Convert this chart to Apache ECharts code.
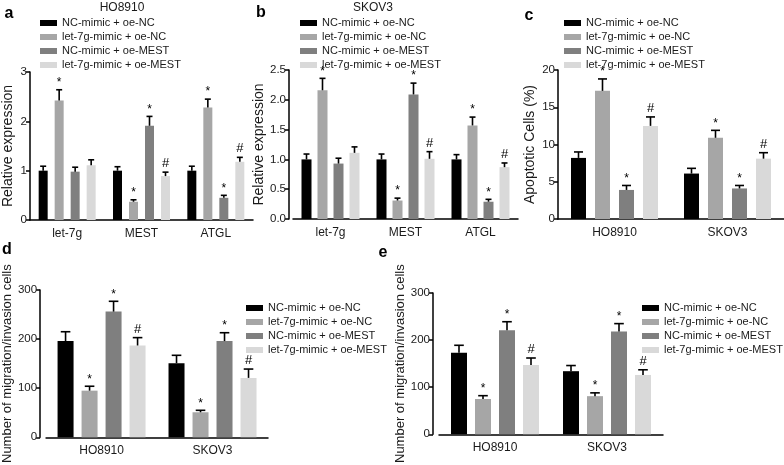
<!DOCTYPE html>
<html>
<head>
<meta charset="utf-8">
<script src="https://cdn.jsdelivr.net/npm/echarts@6/dist/echarts.min.js"></script>
<style>
html,body{margin:0;padding:0;background:#fff;}
#chart{width:784px;height:465px;}
</style>
</head>
<body>
<div id="chart"></div>
<script>
// ---------- shared ----------
const groups = ['NC-mimic + oe-NC', 'let-7g-mimic + oe-NC', 'NC-mimic + oe-MEST', 'let-7g-mimic + oe-MEST'];
const colors = ['#000000', '#a6a6a6', '#7f7f7f', '#d9d9d9'];

// ---------- panel a : HO8910 relative expression ----------
const aCats = ['let-7g', 'MEST', 'ATGL'];
const aNcNc = [1.00, 1.00, 1.00];
const aLetNc = [2.42, 0.37, 2.28];
const aNcMest = [0.98, 1.91, 0.45];
const aLetMest = [1.11, 0.89, 1.18];
const aNcNcSd = [0.09, 0.08, 0.09];
const aLetNcSd = [0.22, 0.04, 0.17];
const aNcMestSd = [0.09, 0.19, 0.05];
const aLetMestSd = [0.11, 0.08, 0.09];
const aMarks = [['', '', ''], ['*', '*', '*'], ['', '*', '*'], ['', '#', '#']];

// ---------- panel b : SKOV3 relative expression ----------
const bCats = ['let-7g', 'MEST', 'ATGL'];
const bNcNc = [1.00, 1.00, 1.00];
const bLetNc = [2.16, 0.31, 1.57];
const bNcMest = [0.93, 2.09, 0.29];
const bLetMest = [1.11, 1.01, 0.87];
const bNcNcSd = [0.09, 0.09, 0.08];
const bLetNcSd = [0.20, 0.04, 0.14];
const bNcMestSd = [0.09, 0.19, 0.04];
const bLetMestSd = [0.10, 0.12, 0.07];
const bMarks = [['', '', ''], ['*', '*', '*'], ['', '*', '*'], ['', '#', '#']];

// ---------- panel c : apoptotic cells ----------
const cCats = ['HO8910', 'SKOV3'];
const cNcNc = [8.2, 6.1];
const cLetNc = [17.2, 10.9];
const cNcMest = [3.9, 4.1];
const cLetMest = [12.5, 8.1];
const cNcNcSd = [0.8, 0.7];
const cLetNcSd = [1.6, 1.0];
const cNcMestSd = [0.6, 0.4];
const cLetMestSd = [1.2, 0.8];
const cMarks = [['', ''], ['*', '*'], ['*', '*'], ['#', '#']];

// ---------- panel d : migration/invasion ----------
const dCats = ['HO8910', 'SKOV3'];
const dNcNc = [196, 151];
const dLetNc = [95, 51];
const dNcMest = [256, 196];
const dLetMest = [187, 121];
const dNcNcSd = [19, 16];
const dLetNcSd = [9, 4];
const dNcMestSd = [21, 17];
const dLetMestSd = [16, 18];
const dMarks = [['', ''], ['*', '*'], ['*', '*'], ['#', '#']];

// ---------- panel e : migration/invasion ----------
const eCats = ['HO8910', 'SKOV3'];
const eNcNc = [173, 134];
const eLetNc = [75, 81];
const eNcMest = [221, 218];
const eLetMest = [147, 126];
const eNcNcSd = [16, 12];
const eLetNcSd = [7, 7];
const eNcMestSd = [18, 17];
const eLetMestSd = [15, 11];
const eMarks = [['', ''], ['*', '*'], ['*', '*'], ['#', '#']];

// ---------- layout ----------
const panels = [
  { cats: aCats, vals: [aNcNc, aLetNc, aNcMest, aLetMest], sds: [aNcNcSd, aLetNcSd, aNcMestSd, aLetMestSd], marks: aMarks,
    grid: { left: 30, top: 72, width: 223, height: 148 }, yOff: 0, max: 3, interval: 1, dec: 0, barW: 9, gap: 7,
    name: 'Relative expression', nameGap: 15, nameSize: 14, legend: { left: 35, top: 11 }, labMargin: 8 },
  { cats: bCats, vals: [bNcNc, bLetNc, bNcMest, bLetMest], sds: [bNcNcSd, bLetNcSd, bNcMestSd, bLetMestSd], marks: bMarks,
    grid: { left: 293, top: 70, width: 225, height: 149 }, yOff: 4, max: 2.5, interval: 0.5, dec: 1, barW: 10, gap: 6,
    name: 'Relative expression', nameGap: 20, nameSize: 14, legend: { left: 295, top: 11 }, labMargin: 8 },
  { cats: cCats, vals: [cNcNc, cLetNc, cNcMest, cLetMest], sds: [cNcNcSd, cLetNcSd, cNcMestSd, cLetMestSd], marks: cMarks,
    grid: { left: 558, top: 70, width: 226, height: 149 }, yOff: 0, max: 20, interval: 5, dec: 0, barW: 15, gap: 9,
    name: 'Apoptotic Cells (%)', nameGap: 21, nameSize: 14, legend: { left: 559, top: 11 }, labMargin: 8 },
  { cats: dCats, vals: [dNcNc, dLetNc, dNcMest, dLetMest], sds: [dNcNcSd, dLetNcSd, dNcMestSd, dLetMestSd], marks: dMarks,
    grid: { left: 44, top: 290, width: 224, height: 150 }, yOff: 6, max: 300, interval: 100, dec: 0, barW: 16, gap: 8,
    name: 'Number of migration/invasion cells', nameGap: 25, nameSize: 13, legend: { left: 241, top: 296 }, labMargin: 7 },
  { cats: eCats, vals: [eNcNc, eLetNc, eNcMest, eLetMest], sds: [eNcNcSd, eLetNcSd, eNcMestSd, eLetMestSd], marks: eMarks,
    grid: { left: 439, top: 293, width: 224, height: 150 }, yOff: 6, max: 300, interval: 100, dec: 0, barW: 16, gap: 8,
    name: 'Number of migration/invasion cells', nameGap: 23, nameSize: 13, legend: { left: 637, top: 296 }, labMargin: 7 }
];

const FONT = 'Liberation Sans, Arial, sans-serif';
const TXT = '#1a1a1a';

const grids = [], xAxes = [], yAxes = [], series = [], legends = [];

function makeRender(p) {
  const step = p.barW + p.gap;
  const capW = Math.max(6, p.barW * 0.6);
  return function (params, api) {
    const c = api.value(0), top = api.value(1), s = api.value(2), mean = api.value(3);
    const pt = api.coord([c, top]);
    const pb = api.coord([c, mean]);
    const x = pt[0] + (s - 1.5) * step;
    const children = [
      { type: 'line', shape: { x1: x, y1: pb[1], x2: x, y2: pt[1] }, style: { stroke: '#000', lineWidth: 1.6 } },
      { type: 'line', shape: { x1: x - capW / 2, y1: pt[1], x2: x + capW / 2, y2: pt[1] }, style: { stroke: '#000', lineWidth: 1.6 } }
    ];
    const m = p.marks[s][c];
    if (m) {
      const isStar = m === '*';
      children.push({
        type: 'text',
        style: {
          text: m, x: x, y: pt[1] - (isStar ? 1 : 2),
          textAlign: 'center', textVerticalAlign: 'bottom',
          font: (isStar ? '12px ' : '13px ') + FONT, fill: '#000'
        }
      });
    }
    return { type: 'group', children: children };
  };
}

panels.forEach((p, i) => {
  grids.push(Object.assign({ containLabel: false }, p.grid));
  xAxes.push({
    type: 'category', gridIndex: i, data: p.cats,
    axisLine: { lineStyle: { color: '#000', width: 1.5 } },
    axisTick: { alignWithLabel: true, length: 4, lineStyle: { color: '#000', width: 1.5 } },
    axisLabel: { color: TXT, fontSize: 12, fontFamily: FONT, margin: p.labMargin },
    splitLine: { show: false }
  });
  yAxes.push({
    type: 'value', gridIndex: i, min: 0, max: p.max, interval: p.interval, offset: p.yOff,
    name: p.name, nameLocation: 'middle', nameGap: p.nameGap,
    nameTextStyle: { color: TXT, fontSize: p.nameSize, fontFamily: FONT },
    axisLine: { show: true, lineStyle: { color: '#000', width: 1.5 } },
    axisTick: { show: true, length: 4, lineStyle: { color: '#000', width: 1.5 } },
    axisLabel: { color: TXT, fontSize: 11.5, fontFamily: FONT, margin: 3,
      formatter: (v) => v.toFixed(p.dec) },
    splitLine: { show: false }
  });
  p.vals.forEach((vals, s) => {
    series.push({
      type: 'bar', name: groups[s], xAxisIndex: i, yAxisIndex: i, data: vals,
      barWidth: p.barW, barGap: (p.gap / p.barW * 100) + '%',
      itemStyle: { color: colors[s] }, silent: true, animation: false
    });
  });
  const ebData = [];
  p.vals.forEach((vals, s) => {
    vals.forEach((v, c) => { ebData.push([c, v + p.sds[s][c], s, v]); });
  });
  series.push({
    type: 'custom', xAxisIndex: i, yAxisIndex: i, data: ebData, z: 10,
    renderItem: makeRender(p), encode: { x: 0, y: 1 }, silent: true, animation: false
  });
  legends.push({
    orient: 'vertical', left: p.legend.left, top: p.legend.top, data: groups,
    icon: 'rect', itemWidth: 17, itemHeight: 6, itemGap: 0,
    textStyle: { color: TXT, fontSize: 11, fontFamily: FONT, lineHeight: 14 },
    selectedMode: false
  });
});

const labelTexts = [
  { t: 'a', x: 9, y: 14 }, { t: 'b', x: 261, y: 13 }, { t: 'c', x: 529, y: 16 },
  { t: 'd', x: 7, y: 250 }, { t: 'e', x: 383, y: 253 }
];
const titleTexts = [{ t: 'HO8910', x: 122, y: 8 }, { t: 'SKOV3', x: 373, y: 8 }];

const graphic = [];
labelTexts.forEach(l => graphic.push({ type: 'text', x: l.x, y: l.y,
  style: { text: l.t, font: 'bold 16px ' + FONT, fill: '#000', textAlign: 'center', textVerticalAlign: 'middle' } }));
titleTexts.forEach(l => graphic.push({ type: 'text', x: l.x, y: l.y,
  style: { text: l.t, font: '12px ' + FONT, fill: TXT, textAlign: 'center', textVerticalAlign: 'middle' } }));

const chart = echarts.init(document.getElementById('chart'), null, { renderer: 'canvas' });
chart.setOption({
  animation: false,
  backgroundColor: '#fff',
  grid: grids, xAxis: xAxes, yAxis: yAxes, series: series, legend: legends, graphic: graphic
});
</script>
</body>
</html>
